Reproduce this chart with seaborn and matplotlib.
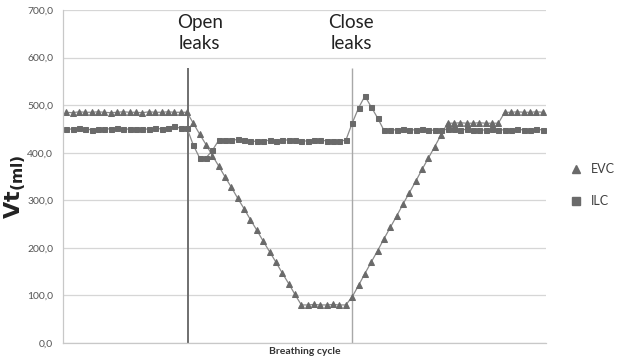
import numpy as np
import pandas as pd
import matplotlib
matplotlib.use('Agg')
import matplotlib.pyplot as plt
import seaborn as sns
from matplotlib.lines import Line2D

# Valores (Vt en ml por ciclo respiratorio)
evc = [485, 484, 486, 485, 485, 486, 485, 484, 485, 486, 485, 485, 484, 486, 485, 485, 486, 485, 485, 485,
       462, 439, 417, 394, 372, 349, 327, 304, 282, 259, 237, 214, 192, 170, 147, 125, 102,
       80, 80, 81, 80, 80, 81, 80, 80,
       97, 121, 146, 170, 194, 219, 243, 267, 292, 316, 340, 365, 389, 413, 438,
       462, 462, 463, 462, 462, 463, 462, 462, 462,
       485, 485, 486, 485, 485, 486, 485]
ilc = [449, 450, 451, 450, 448, 449, 450, 450, 451, 449, 450, 450, 449, 450, 451, 450, 452, 456, 451, 452,
       416, 389, 389, 405, 426,
       426, 426, 428, 426, 424, 424, 425, 426, 425, 426, 427, 426, 424, 425, 427, 426, 425, 424, 425, 426,
       462, 494, 519, 496, 473, 447,
       448, 448, 449, 448, 448, 449, 448, 447, 448, 449, 450, 448, 449, 448, 447, 448, 449, 448, 448, 447,
       449, 448, 448, 449, 448]
ciclo = list(range(len(evc)))
yticks = [0, 100, 200, 300, 400, 500, 600, 700]
ytick_labels = ['0,0', '100,0', '200,0', '300,0', '400,0', '500,0', '600,0', '700,0']
eventos = ['Open\nleaks', 'Close\nleaks']
evento_x = [19.2, 45]

df = pd.DataFrame({'ciclo': ciclo, 'EVC': evc, 'ILC': ilc})

sns.set_theme(style='white')
plt.rcParams['font.family'] = ['Lato', 'DejaVu Sans']

fig = plt.figure(figsize=(6.19, 3.63), dpi=100)
ax = fig.add_axes([0.1018, 0.0551, 0.7803, 0.9174])

gris_linea = '#8a8a8a'
gris_marca = '#6a6a6a'

sns.lineplot(data=df, x='ciclo', y='EVC', ax=ax, color=gris_linea, lw=0.9,
             marker='^', markersize=4.2, markerfacecolor=gris_marca, markeredgecolor=gris_marca)
sns.lineplot(data=df, x='ciclo', y='ILC', ax=ax, color=gris_linea, lw=0.9,
             marker='s', markersize=3.6, markerfacecolor=gris_marca, markeredgecolor=gris_marca)

# Lineas verticales de apertura / cierre de fugas
ax.vlines(evento_x[0], 0, 578, color='#6f6f6f', lw=1.4, zorder=1)
ax.vlines(evento_x[1], 0, 578, color='#a8a8a8', lw=1.0, zorder=1)
ax.text(21.0, 652, eventos[0], ha='center', va='center', fontsize=13.5,
        color='#222222', linespacing=1.25)
ax.text(44.8, 652, eventos[1], ha='center', va='center', fontsize=13.5,
        color='#222222', linespacing=1.25)

ax.set_xlim(-0.5, len(evc) - 0.5)
ax.set_ylim(0, 700)
ax.set_yticks(yticks)
ax.set_yticklabels(ytick_labels, fontsize=7.5, color='#555555')
ax.set_xticks([])
ax.tick_params(axis='y', length=0, pad=7)
ax.yaxis.grid(True, color='#d6d6d6', lw=0.9)
ax.set_axisbelow(True)
for s in ['top', 'right']:
    ax.spines[s].set_visible(False)
for s in ['left', 'bottom']:
    ax.spines[s].set_color('#c8c8c8')
    ax.spines[s].set_linewidth(0.9)

ax.set_xlabel('Breathing cycle', fontsize=7.5, fontweight='bold', color='#333333', labelpad=3)
ax.set_ylabel(r'$\mathbf{Vt}_{\mathbf{(ml)}}$', fontsize=16, color='#222222')
ax.yaxis.set_label_coords(-0.072, 0.47)

handles = [Line2D([], [], marker='^', ls='none', color=gris_marca, markersize=6),
           Line2D([], [], marker='s', ls='none', color=gris_marca, markersize=5.5)]
fig.legend(handles, ['EVC', 'ILC'], loc='center left', bbox_to_anchor=(0.9, 0.49),
           frameon=False, fontsize=9, labelcolor='#404040', labelspacing=1.6,
           handletextpad=0.6, handlelength=1.2)

fig.savefig('out.png', dpi=100)
